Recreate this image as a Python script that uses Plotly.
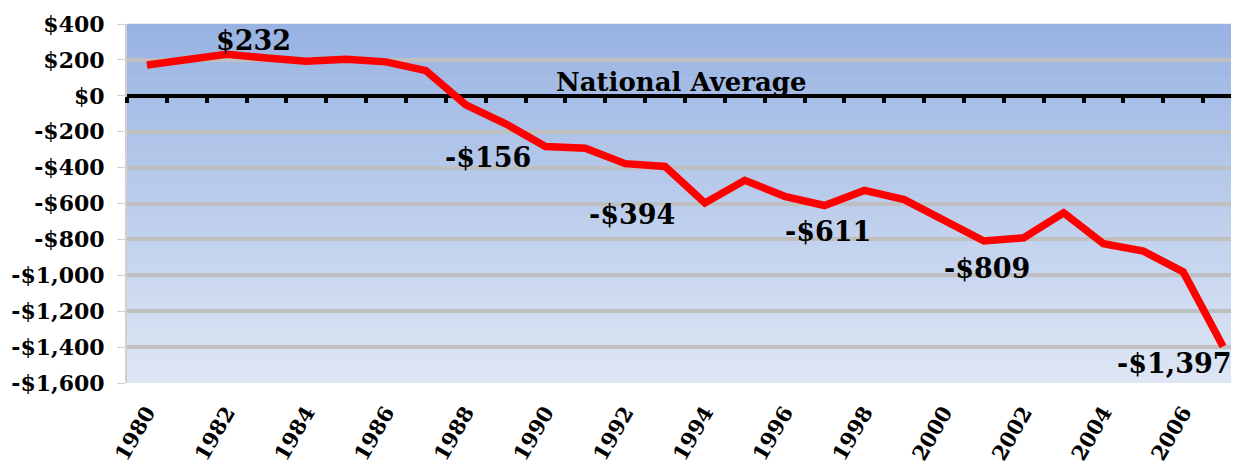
import plotly.graph_objects as go

# data
years = list(range(1980, 2008))
values = [172, 202, 232, 210, 192, 203, 189, 140, -50, -156,
          -282, -292, -378, -394, -597, -471, -560, -611, -527, -578,
          -692, -809, -791, -652, -824, -865, -981, -1397]

label_years = [1982, 1989, 1993, 1997, 2001, 2007]
label_shift = [(27, 14), (-18, -34), (-33, -48), (4, -26), (3, -27), (-42, -17)]

x_tick_years = list(range(1980, 2007, 2))
y_ticks = list(range(-1600, 401, 200))

FONT = "DejaVu Serif"


def money(v):
    return f"-${abs(v):,}" if v < 0 else f"${v:,}"


fig = go.Figure()

# gradient plot background, dark blue at top to pale at bottom
top_rgb = (152, 179, 226)
bot_rgb = (222, 230, 245)
n_bands = 60
for i in range(n_bands):
    t = i / (n_bands - 1)
    c = tuple(round(top_rgb[k] + (bot_rgb[k] - top_rgb[k]) * t) for k in range(3))
    fig.add_shape(
        type="rect", xref="x domain", yref="y domain",
        x0=0, x1=1, y0=1 - (i + 1) / n_bands, y1=1 - i / n_bands + 0.001,
        fillcolor=f"rgb{c}", line_width=0, layer="below"
    )

fig.add_trace(
    go.Scatter(
        x=years, y=values, mode="lines",
        line=dict(color="#FF0000", width=7.5),
        hoverinfo="skip", showlegend=False
    )
)
# empty trace so the tick axis sitting on the zero line gets drawn
fig.add_trace(go.Scatter(x=[None], y=[None], xaxis="x2", showlegend=False, hoverinfo="skip"))

for yr, (dx, dy) in zip(label_years, label_shift):
    v = values[years.index(yr)]
    last = yr == label_years[-1]
    fig.add_annotation(
        x=yr, y=v, text=f"<b>{money(v)}</b>", showarrow=False,
        xshift=11 if last else dx, yshift=dy,
        xanchor="right" if last else "center", yanchor="middle",
        font=dict(family=FONT, size=27, color="black")
    )

fig.add_annotation(
    x=1993.4, y=0, text="<b>National Average</b>", showarrow=False,
    xanchor="center", yanchor="bottom", yshift=-3,
    font=dict(family=FONT, size=26, color="black")
)

# the page body adds an 8px offset, so the figure is shrunk by that much
fig.update_layout(
    width=1231, height=460,
    margin=dict(l=119, r=0, t=16, b=85),
    paper_bgcolor="white",
    plot_bgcolor="#C4D3EE",
    xaxis=dict(
        range=[1979.5, 2007.4],
        tickvals=x_tick_years,
        ticktext=[str(y) for y in x_tick_years],
        tickangle=-60,
        ticks="", showgrid=False, zeroline=False,
        showline=False,
        ticklabelstandoff=12,
        tickfont=dict(family=FONT, size=21, color="black", weight="bold")
    ),
    xaxis2=dict(
        overlaying="x", matches="x", anchor="free", position=0.8, side="bottom",
        range=[1979.5, 2007.4],
        tickvals=[y - 0.5 for y in years] + [2007.5],
        showticklabels=False, ticks="outside", ticklen=6, tickwidth=4,
        tickcolor="black", showline=False,
        showgrid=False, zeroline=False
    ),
    yaxis=dict(
        range=[-1600, 400],
        tickvals=y_ticks,
        ticktext=[money(v) for v in y_ticks],
        ticks="outside", ticklen=8, tickcolor="#D0D0D0", tickwidth=1,
        ticklabelstandoff=8,
        showgrid=True, gridcolor="#BFBFBF", gridwidth=4,
        zeroline=True, zerolinecolor="black", zerolinewidth=4,
        showline=True, linecolor="#D0D0D0", linewidth=2,
        tickfont=dict(family=FONT, size=22, color="black", weight="bold")
    ),
)

fig.write_html("out.html")
